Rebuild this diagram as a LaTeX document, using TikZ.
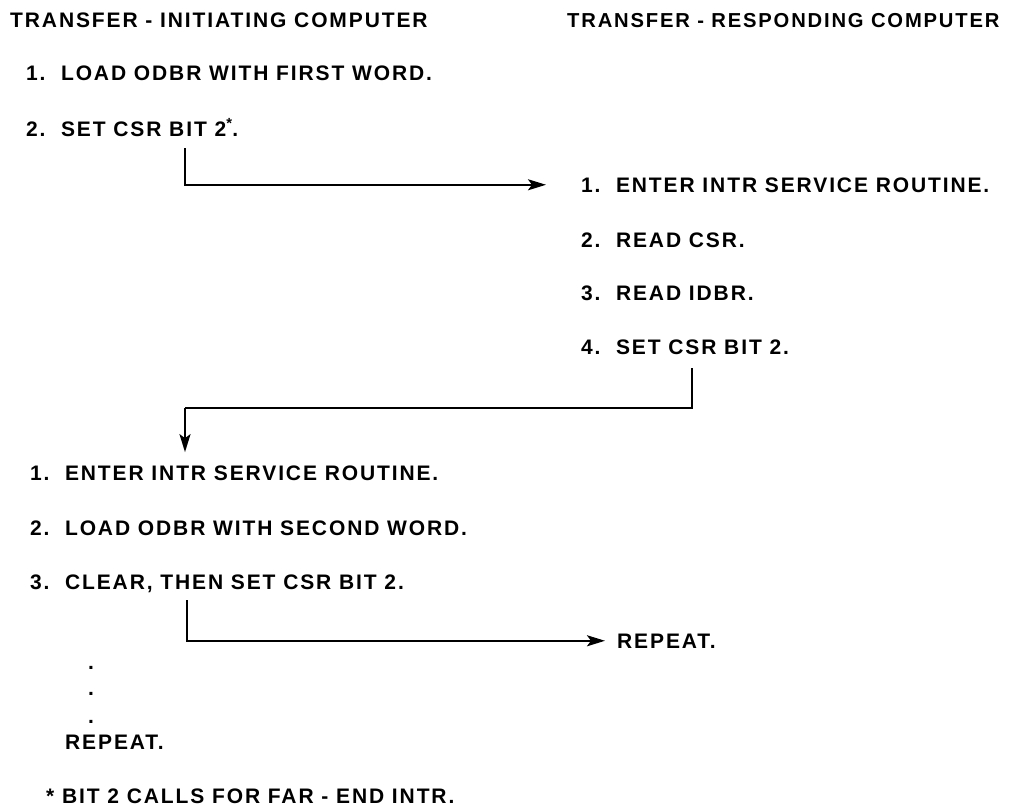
\documentclass[tikz,border=0pt]{standalone}
\usepackage{fontspec}
\setmainfont{Liberation Sans}[LetterSpace=9]
\usepackage{tikz}
\usetikzlibrary{arrows.meta}
\usetikzlibrary{calc}
\usetikzlibrary{positioning}
\tikzset{txt/.style={anchor=base west, inner sep=0pt, font=\bfseries\fontsize{21}{24}\selectfont}}
\tikzset{flow/.style={-{Stealth[length=18pt,width=11pt,inset=4pt]}, line width=2pt}}
\tikzset{wire/.style={line width=2pt}}

\begin{document}
\begin{tikzpicture}[x=1pt,y=-1pt]
   \useasboundingbox (0,0) rectangle (1013,807);
   \node[txt] (TL) at (10,27)  {TRANSFER - INITIATING COMPUTER};
   \node[txt, font=\bfseries\fontsize{20.2}{24}\selectfont] (TR) at (567,27) {TRANSFER - RESPONDING COMPUTER};

   \node[txt] (A1) at (26,80)  {1.\ \ LOAD ODBR WITH FIRST WORD.};
   \node[txt] (A2) at (26,136) {2.\ \ SET CSR BIT 2\textsuperscript{*}.};

   \node[txt] (B1) at (581,192) {1.\ \ ENTER INTR SERVICE ROUTINE.};
   \node[txt] (B2) at (581,247) {2.\ \ READ CSR.};
   \node[txt] (B3) at (581,300) {3.\ \ READ IDBR.};
   \node[txt] (B4) at (581,354) {4.\ \ SET CSR BIT 2.};

   \node[txt] (C1) at (30,480) {1.\ \ ENTER INTR SERVICE ROUTINE.};
   \node[txt] (C2) at (30,535) {2.\ \ LOAD ODBR WITH SECOND WORD.};
   \node[txt] (C3) at (30,589) {3.\ \ CLEAR, THEN SET CSR BIT 2.};

   \node[txt] (RR) at (617,648) {REPEAT.};
   \foreach \y [count=\i] in {669,695,723}
      \node[txt] (D\i) at (88,\y) {.};
   \node[txt] (RL) at (65,749) {REPEAT.};
   \node[txt] (NOTE) at (46,803) {*\ BIT 2 CALLS FOR FAR - END INTR.};

   \coordinate (K1) at (185,148);
   \coordinate (K2) at (692,368);
   \coordinate (K3) at (185,408);
   \coordinate (K4) at (187,600);

   \draw[flow, shorten >=35pt] (K1) |- (B1.west);
   \draw[wire] (K2) |- (K3);
   \draw[flow, shorten >=13pt] (K3) -- (K3 |- C1.north);
   \draw[flow, shorten >=12pt] (K4) |- (RR.west);
\end{tikzpicture}
\end{document}
